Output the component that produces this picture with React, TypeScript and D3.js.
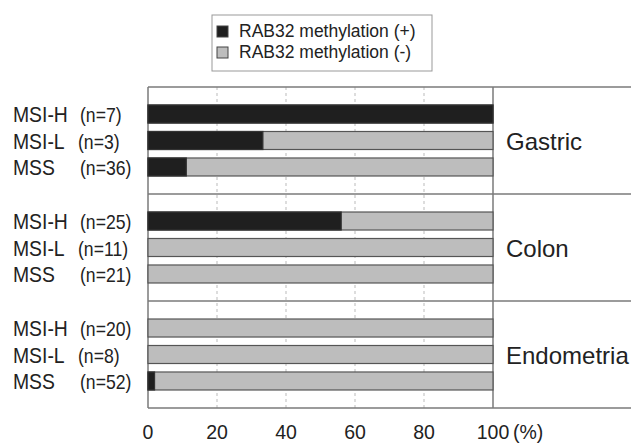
import React from 'react';
import * as d3 from 'd3';

const tissues = ['Gastric', 'Colon', 'Endometria'];
const subtypes = ['MSI-H', 'MSI-L', 'MSS'];
// n per tissue / subtype
const counts = [
  [7, 3, 36],
  [25, 11, 21],
  [20, 8, 52],
];
// % methylation (+)
const positive = [
  [100, 33.3, 11.1],
  [56, 0, 0],
  [0, 0, 1.9],
];
const ticks = [0, 20, 40, 60, 80, 100];
const legendLabels = ['RAB32 methylation (+)', 'RAB32 methylation (-)'];

const W = 631;
const H = 443;
const left = 148;
const right = 493;
const top = 87;
const bottom = 408;

const DARK = '#1f1f1f';
const LIGHT = '#bdbdbd';
const LINE = '#7a7a7a';
const FONT = 'Liberation Sans, Arial, sans-serif';

const App = () => {
  const x = d3.scaleLinear().domain([0, 100]).range([left, right]);
  const yGroup = d3.scaleBand().domain(tissues).range([top, bottom]);
  const yRow = d3.scaleBand()
    .domain(subtypes)
    .range([0, yGroup.bandwidth()])
    .paddingInner(0.32)
    .paddingOuter(0.68);

  const textScale = 'scale(0.88,1)';

  return (
    <svg width={W} height={H} style={{ position: 'absolute', left: 0, top: 0 }}
      fontFamily={FONT}>
      <rect width={W} height={H} fill="#fff" />

      {/* legend */}
      <g>
        <rect x={212} y={15} width={220} height={56} fill="#fff" stroke="#999" strokeWidth={1} />
        {legendLabels.map((l, i) => (
          <g key={l} transform={`translate(217,${26 + i * 21})`}>
            <rect width={11} height={11} fill={i === 0 ? DARK : LIGHT} stroke="#444" strokeWidth={1} />
            <text x={22} y={10.5} fontSize={17.5} fill="#222">{l}</text>
          </g>
        ))}
      </g>

      {/* dashed grid */}
      {ticks.slice(1, -1).map(t => (
        <line key={t} x1={x(t)} x2={x(t)} y1={top} y2={bottom}
          stroke="#aaa" strokeWidth={0.8} strokeDasharray="3,3" />
      ))}

      {/* frame */}
      <line x1={left} x2={left} y1={top} y2={bottom} stroke={LINE} strokeWidth={1.5} />
      <line x1={right} x2={right} y1={top} y2={bottom} stroke={LINE} strokeWidth={1.5} />
      {[top, ...tissues.map(t => (yGroup(t) as number) + yGroup.bandwidth())].map((y, i) => (
        <line key={i} x1={left} x2={W} y1={y} y2={y} stroke={LINE} strokeWidth={1.5} />
      ))}

      {tissues.map((t, gi) => {
        const gy = yGroup(t) as number;
        return (
          <g key={t} transform={`translate(0,${gy})`}>
            {subtypes.map((s, ri) => {
              const y0 = yRow(s) as number;
              const h = yRow.bandwidth();
              const p = positive[gi][ri];
              const cy = y0 + h / 2;
              return (
                <g key={s}>
                  <rect x={x(0)} y={y0} width={x(100) - x(0)} height={h}
                    fill={LIGHT} stroke="#555" strokeWidth={1.2} />
                  {p > 0 && (
                    <rect x={x(0)} y={y0} width={x(p) - x(0)} height={h}
                      fill={DARK} stroke="#333" strokeWidth={1.2} />
                  )}
                  <text transform={`translate(13,${cy + 8}) ${textScale}`} fontSize={22} fill="#222">{s}</text>
                  <text transform={`translate(${ri === 1 ? 78 : 80},${cy + 8}) ${textScale}`} fontSize={20} fill="#222">
                    (n={counts[gi][ri]})
                  </text>
                </g>
              );
            })}
            <text x={506} y={yGroup.bandwidth() / 2 + 9} fontSize={24} fill="#222">{t}</text>
          </g>
        );
      })}

      {/* x axis labels */}
      {ticks.map(t => (
        <text key={t} x={x(t)} y={439} fontSize={19.5} fill="#222" textAnchor="middle">{t}</text>
      ))}
      <text x={x(100) + 20} y={439} fontSize={19.5} fill="#222">(%)</text>
    </svg>
  );
};

export default App;
